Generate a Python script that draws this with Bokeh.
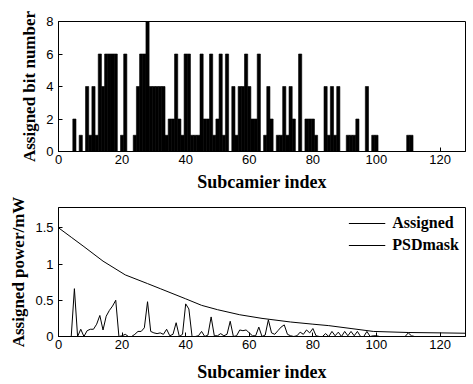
from bokeh.plotting import figure
from bokeh.layouts import column
from bokeh.models import FixedTicker, Range1d
from bokeh.embed import file_html
from bokeh.resources import INLINE

# ---- data ----
subcarrier = list(range(1, 129))

bits = [
    0, 0, 0, 0, 2, 0, 1, 0, 4, 1,      # 1-10
    4, 1, 6, 4, 6, 6, 6, 6, 0, 1,      # 11-20
    6, 0, 0, 1, 4, 6, 6, 8, 4, 4,      # 21-30
    4, 4, 4, 1, 2, 2, 6, 2, 1, 6,      # 31-40
    6, 1, 1, 1, 6, 2, 2, 6, 1, 2,      # 41-50
    6, 1, 6, 0, 4, 1, 4, 4, 6, 4,      # 51-60
    2, 2, 6, 0, 1, 4, 2, 0, 1, 1,      # 61-70
    4, 1, 4, 2, 0, 6, 0, 2, 2, 2,      # 71-80
    1, 0, 0, 4, 1, 4, 1, 4, 0, 0,      # 81-90
    1, 1, 1, 2, 0, 0, 4, 0, 1, 1,      # 91-100
    0, 0, 0, 0, 0, 0, 0, 0, 0, 1,      # 101-110
    1, 0, 0, 0, 0, 0, 0, 0, 0, 0,      # 111-120
    0, 0, 0, 0, 0, 0, 0, 0,            # 121-128
]

assigned_power = [
    0, 0, 0, 0, 0.66, 0, 0.10, 0, 0.08, 0.10,                # 1-10
    0.10, 0.17, 0.29, 0.09, 0.28, 0.36, 0.42, 0.50, 0, 0.01,  # 11-20
    0.03, 0, 0, 0.03, 0.07, 0.07, 0.12, 0.48, 0.07, 0.05,     # 21-30
    0.04, 0.05, 0.03, 0.10, 0.01, 0.03, 0.19, 0, 0.03, 0.45,  # 31-40
    0.38, 0, 0, 0.01, 0.07, 0, 0.02, 0.27, 0.01, 0.01,        # 41-50
    0.04, 0.01, 0.03, 0.21, 0, 0.01, 0.09, 0.08, 0.09, 0.05,  # 51-60
    0.01, 0.01, 0.13, 0, 0.02, 0.23, 0.05, 0.03, 0.08, 0.13,  # 61-70
    0.16, 0.03, 0.01, 0, 0.01, 0.06, 0.03, 0.09, 0.05, 0.11,  # 71-80
    0.01, 0, 0, 0.04, 0, 0.07, 0.01, 0.06, 0, 0.07,          # 81-90
    0.01, 0.07, 0.01, 0.07, 0, 0, 0.07, 0, 0.01, 0.01,        # 91-100
    0, 0, 0, 0, 0, 0, 0, 0, 0, 0.05,                          # 101-110
    0.01, 0, 0, 0, 0, 0, 0, 0, 0, 0,                          # 111-120
    0, 0, 0, 0, 0, 0, 0, 0,                                   # 121-128
]

mask_index = [0, 4, 8, 14, 21, 28, 32, 40, 45, 50, 57, 64, 73, 80, 85, 92, 99, 110, 120, 128]
mask_power = [1.50, 1.37, 1.24, 1.04, 0.85, 0.73, 0.66, 0.52, 0.43, 0.37,
              0.30, 0.25, 0.20, 0.17, 0.15, 0.11, 0.07, 0.055, 0.05, 0.045]

x_ticks = [0, 20, 40, 60, 80, 100, 120]
bit_ticks = [0, 2, 4, 6, 8]
power_ticks = [0, 0.5, 1, 1.5]
power_tick_labels = ["0", "0.5", "1", "1.5"]

x_label = "Subcamier index"
bit_label = "Assigned bit number"
power_label = "Assigned power/mW"


def style(p, xlabel_standoff):
    p.outline_line_color = "black"
    p.outline_line_width = 1
    p.xgrid.visible = False
    p.ygrid.visible = False
    p.background_fill_color = "white"
    p.border_fill_color = "white"
    for ax in p.axis:
        ax.major_tick_in = 4
        ax.major_tick_out = 0
        ax.minor_tick_line_color = None
        ax.axis_line_color = "black"
        ax.major_tick_line_color = "black"
        ax.major_label_text_font = "Liberation Sans"
        ax.major_label_text_font_size = "13px"
        ax.major_label_text_color = "black"
        ax.axis_label_text_font = "Liberation Serif"
        ax.axis_label_text_font_style = "bold"
        ax.axis_label_text_color = "black"
    p.xaxis.axis_label_text_font_size = "18px"
    p.yaxis.axis_label_text_font_size = "17px"
    p.xaxis.major_label_standoff = 3
    p.xaxis.axis_label_standoff = xlabel_standoff
    p.yaxis.major_label_standoff = 5
    p.yaxis.axis_label_standoff = 4


p1 = figure(width=466, height=194, x_range=Range1d(0, 128), y_range=Range1d(0, 8),
            output_backend="svg", toolbar_location=None,
            min_border_left=58, min_border_right=1, min_border_top=21, min_border_bottom=42)
p1.vbar(x=subcarrier, top=bits, width=1.0, fill_color="black",
        line_color="black", line_width=0.6)
p1.xaxis.ticker = FixedTicker(ticks=x_ticks)
p1.yaxis.ticker = FixedTicker(ticks=bit_ticks)
p1.xaxis.axis_label = x_label
p1.yaxis.axis_label = bit_label
style(p1, 5)

p2 = figure(width=466, height=190, x_range=Range1d(0, 128), y_range=Range1d(0, 1.78),
            output_backend="svg", toolbar_location=None,
            min_border_left=58, min_border_right=1, min_border_top=13, min_border_bottom=44)
p2.line(subcarrier, assigned_power, line_color="black", line_width=1, legend_label="Assigned")
p2.line(mask_index, mask_power, line_color="black", line_width=1, legend_label="PSDmask")
p2.xaxis.ticker = FixedTicker(ticks=x_ticks)
p2.yaxis.ticker = FixedTicker(ticks=power_ticks)
p2.yaxis.major_label_overrides = {t: l for t, l in zip(power_ticks, power_tick_labels)}
p2.xaxis.axis_label = x_label
p2.yaxis.axis_label = power_label
style(p2, 10)

lg = p2.legend[0]
lg.location = "top_right"
lg.margin = 0
lg.padding = 6
lg.spacing = 2
lg.border_line_alpha = 0
lg.background_fill_alpha = 0
lg.glyph_width = 37
lg.label_standoff = 7
lg.label_text_font = "Liberation Serif"
lg.label_text_font_style = "bold"
lg.label_text_font_size = "16px"
lg.label_text_color = "black"

layout = column(p1, p2)

with open("out.html", "w") as f:
    f.write(file_html(layout, INLINE))
